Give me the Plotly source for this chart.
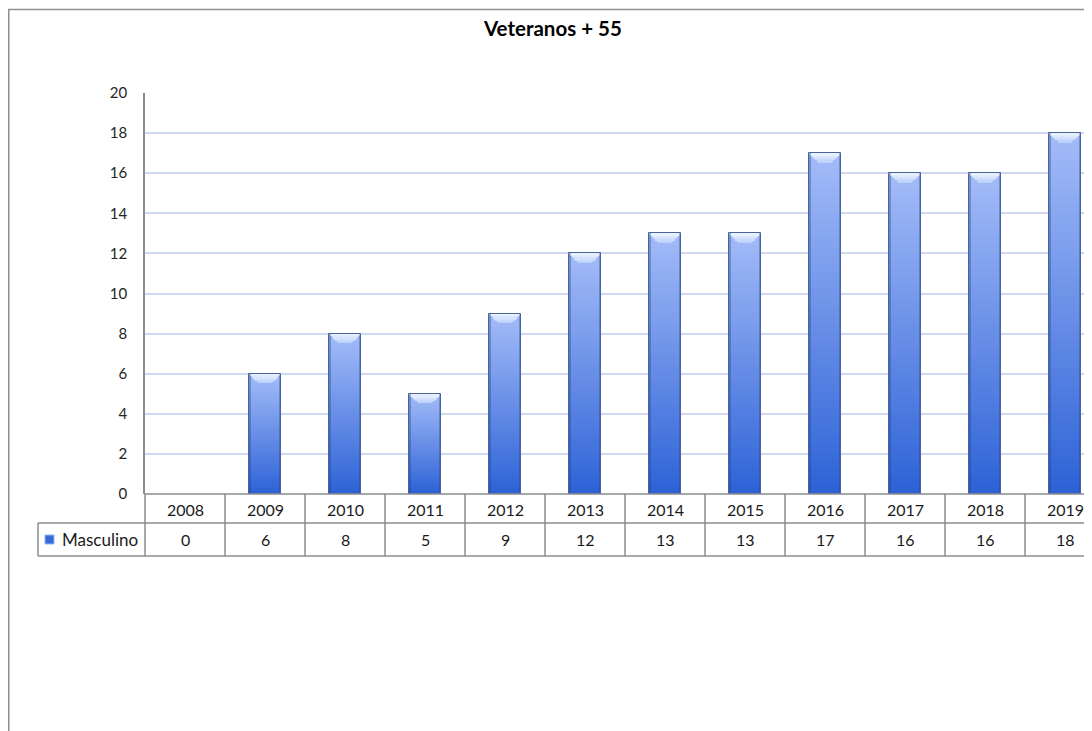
import plotly.graph_objects as go

# ---------------- data ----------------
years = ["2008", "2009", "2010", "2011", "2012", "2013",
         "2014", "2015", "2016", "2017", "2018", "2019"]
masculino = [0, 6, 8, 5, 9, 12, 13, 13, 17, 16, 16, 18]
y_ticks = [0, 2, 4, 6, 8, 10, 12, 14, 16, 18, 20]
chart_title = "Veteranos + 55"
series_name = "Masculino"

# ---------------- geometry helpers (layout only) ----------------
# the page body adds an 8px margin, so figure pixels = screen pixels - 8
OFF = 8
W, H = 1092 - OFF, 731 - OFF
PL, PR, PT, PB = 145 - OFF, 1092 - OFF, 93 - OFF, 494 - OFF   # plot area (figure px)
CAT_W = 80.0


def px(xs_):
    return (xs_ - OFF - PL) / (PR - PL)


def py(ys_):
    return (PB - (ys_ - OFF)) / (PB - PT)


x_max = (PR - PL) / CAT_W - 0.5
FONT = "Lato, 'Open Sans', sans-serif"
GRID = "#cfdaf0"
LINE = "#8c8c8c"
BAR_W = 0.4

xs = list(range(len(years)))
fig = go.Figure()


def lerp(c1, c2, t):
    a = [int(c1[i:i + 2], 16) for i in (1, 3, 5)]
    b = [int(c2[i:i + 2], 16) for i in (1, 3, 5)]
    return "rgb(%d,%d,%d)" % tuple(round(a[k] + (b[k] - a[k]) * t) for k in range(3))


# vertical gradient built from stacked bands of each bar
N = 40
BOTTOM, TOP = "#2d62d6", "#a3bcf8"
for i in range(N):
    fig.add_trace(go.Bar(
        x=xs, y=[v / N for v in masculino], base=[v * i / N for v in masculino],
        width=BAR_W, marker=dict(color=lerp(BOTTOM, TOP, (i + 0.5) / N), line=dict(width=0)),
        hoverinfo="skip", showlegend=False))

# bevelled light cap at the top of each bar
CAP = 0.45
M = 8
for j in range(M):
    t = j / (M - 1)
    h = CAP / M
    wj = BAR_W * (0.45 + 0.55 * t)
    fig.add_trace(go.Bar(
        x=xs, y=[h if v > 0 else 0 for v in masculino],
        base=[v - CAP + h * j if v > 0 else 0 for v in masculino],
        width=wj, marker=dict(color=lerp("#bcd1fb", "#e8f1ff", t), line=dict(width=0)),
        hoverinfo="skip", showlegend=False))

# darker side shading
for side in (-1, 1):
    fig.add_trace(go.Bar(
        x=xs, y=masculino, width=0.03,
        offset=[(-BAR_W / 2 if side < 0 else BAR_W / 2 - 0.03)] * len(xs),
        marker=dict(color="rgba(30,60,140,0.35)", line=dict(width=0)),
        hoverinfo="skip", showlegend=False))

# outline
fig.add_trace(go.Bar(
    x=xs, y=masculino, width=BAR_W, name=series_name,
    marker=dict(color="rgba(0,0,0,0)",
                line=dict(color=["#4a6498" if v > 0 else "rgba(0,0,0,0)" for v in masculino],
                          width=1)),
    showlegend=False))

fig.update_layout(
    width=W, height=H, barmode="overlay", bargap=0,
    paper_bgcolor="white", plot_bgcolor="white",
    margin=dict(l=PL, r=W - PR, t=PT, b=H - PB, pad=0),
    font=dict(family=FONT, size=15, color="#262626"),
    xaxis=dict(range=[-0.5, x_max], showticklabels=False, showgrid=False,
               zeroline=False, showline=False, ticks="", fixedrange=True),
    yaxis=dict(range=[0, 20], tickvals=y_ticks, showgrid=True, gridcolor=GRID,
               gridwidth=1.5, zeroline=False, showline=True, linecolor=LINE,
               linewidth=1.5, ticks="", ticklabelstandoff=13,
               tickfont=dict(family=FONT, size=15, color="#262626")),
)

shapes = []


def hline(x0s, x1s, ys_, color=LINE):
    shapes.append(dict(type="line", xref="paper", yref="paper", x0=px(x0s), x1=px(x1s),
                       y0=py(ys_), y1=py(ys_), line=dict(color=color, width=1.5), layer="above"))


def vline(xs_, y0s, y1s, color=LINE):
    shapes.append(dict(type="line", xref="paper", yref="paper", x0=px(xs_), x1=px(xs_),
                       y0=py(y0s), y1=py(y1s), line=dict(color=color, width=1.5), layer="above"))


# outer chart border (left + top visible), screen coords
vline(8.75, 9, 731 + 20, "#8f8f8f")
hline(8, 1092 + 20, 9.5, "#8f8f8f")

# data table (screen coords)
ROW1_T, ROW1_B, ROW2_B = 494, 523, 556
LEG_L = 38
hline(145, 1092 + 20, ROW1_T)
hline(LEG_L, 1092 + 20, ROW1_B)
hline(LEG_L, 1092 + 20, ROW2_B)
vline(LEG_L, ROW1_B, ROW2_B)
for k in range(len(years) + 1):
    xb = 145 + CAT_W * k
    if xb <= 1092:
        vline(xb, ROW1_T, ROW2_B)

# legend key
shapes.append(dict(type="rect", xref="paper", yref="paper", x0=px(45), x1=px(54),
                   y0=py(544), y1=py(535), fillcolor="#3a6ad8",
                   line=dict(color="#93b3f2", width=1), layer="above"))
fig.update_layout(shapes=shapes)

ann = []
for k, (yr, v) in enumerate(zip(years, masculino)):
    ann.append(dict(x=k, xref="x", y=py(509), yref="paper", text=yr,
                    showarrow=False, font=dict(size=16, color="#1a1a1a"), xanchor="center",
                    yanchor="middle"))
    ann.append(dict(x=k, xref="x", y=py(539.5), yref="paper", text=str(v),
                    showarrow=False, font=dict(size=16, color="#1a1a1a"), xanchor="center",
                    yanchor="middle"))
ann.append(dict(x=px(60), xref="paper", y=py(539.5), yref="paper",
                text=series_name, showarrow=False, font=dict(size=17, color="#1a1a1a"),
                xanchor="left", yanchor="middle"))
ann.append(dict(x=px(552), xref="paper", y=py(28), yref="paper",
                text="<b>" + chart_title + "</b>", showarrow=False,
                font=dict(size=20.5, color="#000000"), xanchor="center", yanchor="middle"))
fig.update_layout(annotations=ann)

fig.write_html("out.html")
